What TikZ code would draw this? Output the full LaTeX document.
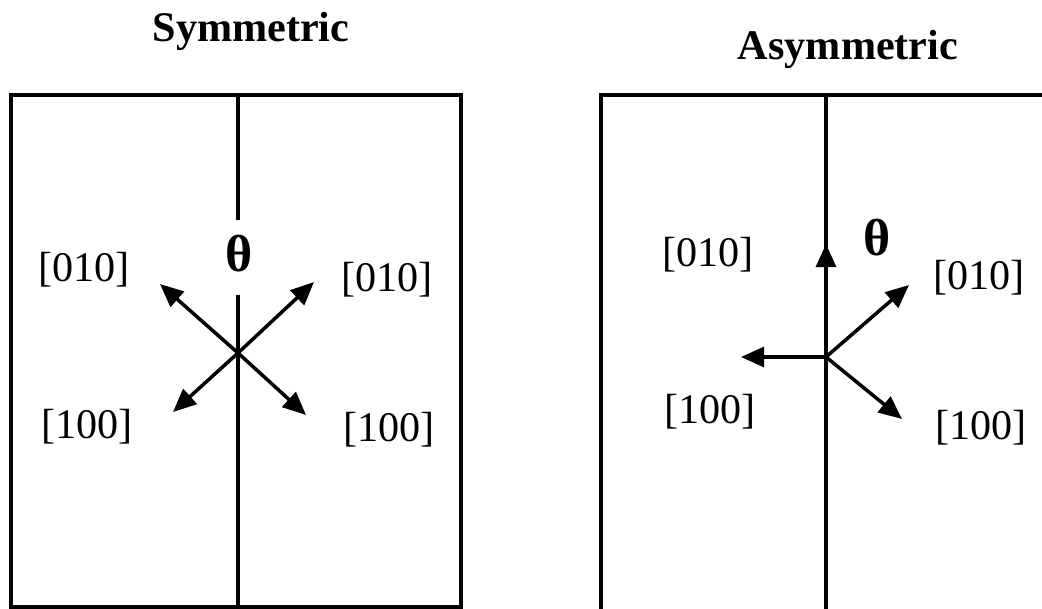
\documentclass[tikz,border=0pt]{standalone}
\usepackage{fontspec}
\setmainfont{Liberation Serif}
\usetikzlibrary{arrows.meta,positioning,calc}

\begin{document}
\begin{tikzpicture}[x=0.025cm,y=-0.025cm,font=\fontsize{30}{36}\selectfont,
  >={Triangle[length=0.58cm,width=0.5cm]},
  wall/.style={draw=black,line width=2.2pt},
  dir/.style={->,draw=black,line width=2.5pt},
  lab/.style={inner sep=0pt},
  ang/.style={font=\fontsize{37}{40}\selectfont\bfseries,inner sep=0pt},
  ttl/.style={font=\fontsize{30}{36}\selectfont\bfseries,inner sep=0pt}]

\useasboundingbox (0,0) rectangle (1042,609);
\clip (0,0) rectangle (1042,609);

% ---- symmetric boundary ----
\node[ttl] (tsym) at (251,31) {Symmetric};
\draw[wall] (11,95) rectangle (461,607);
\coordinate (sA) at (238,95);
\coordinate (sB) at (238,220);
\coordinate (sC) at (238,295);
\coordinate (sD) at (238,607);
\draw[wall] (sA) -- (sB);
\draw[wall] (sC) -- (sD);
\node[ang] (sth) at (239,254) {θ};

\coordinate (so) at (238,353);
\coordinate (sul) at (160,284);
\coordinate (sur) at (314,282);
\coordinate (sll) at (173,412);
\coordinate (slr) at (306,415);
\foreach \t in {sul,sur,sll,slr} \draw[dir] (so) -- (\t);

\node[lab] (s010l) at (84,270) {[010]};
\node[lab] (s010r) at (387,280) {[010]};
\node[lab] (s100l) at (87,427) {[100]};
\node[lab] (s100r) at (389,430) {[100]};

% ---- asymmetric boundary ----
\node[ttl] (tasym) at (848,49) {Asymmetric};
\draw[wall] (1050,95) -- (601,95) -- (601,615);
\coordinate (aA) at (826,95);
\coordinate (aD) at (826,615);
\draw[wall] (aA) -- (aD);
\node[ang] (ath) at (877,238) {θ};

\coordinate (ao) at (826,357);
\coordinate (aup) at (826,244);
\coordinate (alf) at (741,357);
\coordinate (aur) at (909,285);
\coordinate (alr) at (902,419);
\foreach \t in {aup,alf,aur,alr} \draw[dir] (ao) -- (\t);

\node[lab] (a010l) at (708,255) {[010]};
\node[lab] (a010r) at (979,278) {[010]};
\node[lab] (a100l) at (710,412) {[100]};
\node[lab] (a100r) at (981,428) {[100]};
\end{tikzpicture}
\end{document}
